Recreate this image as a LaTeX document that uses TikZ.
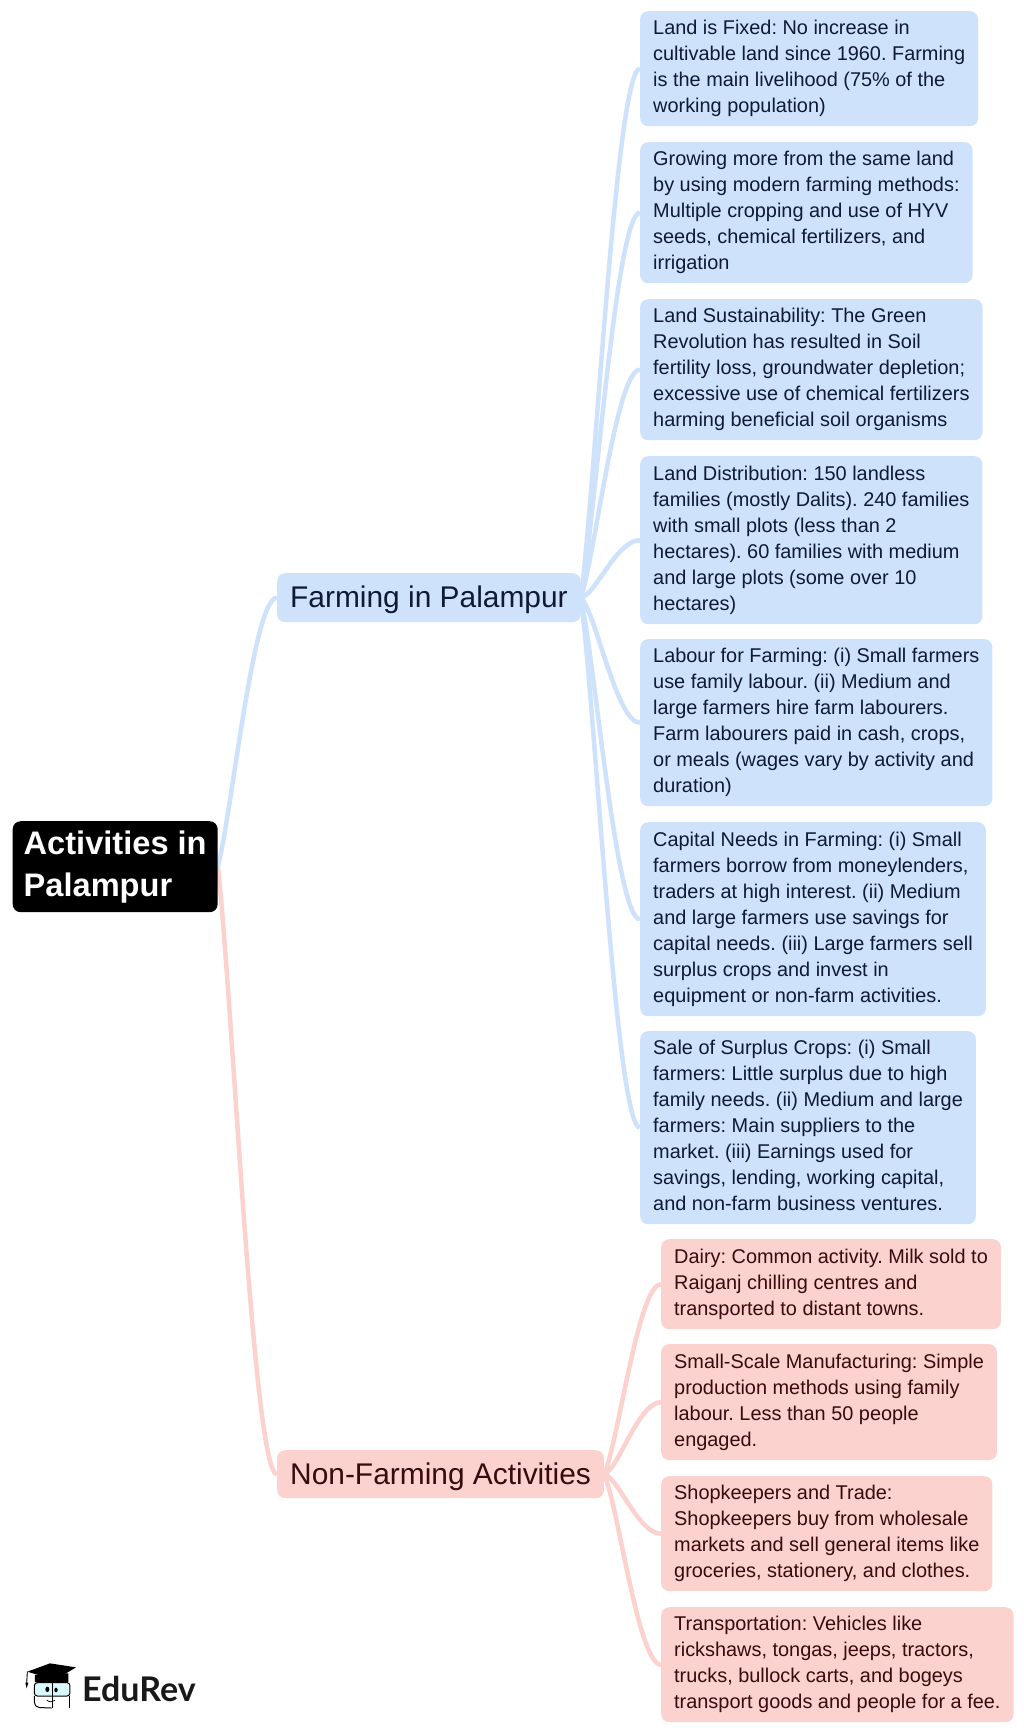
\documentclass[tikz,border=0pt]{standalone}
\usepackage{fontspec}
\setmainfont{Liberation Sans}
\newfontfamily\logofont{Lato}
\usetikzlibrary{calc,backgrounds}
\definecolor{bluefill}{HTML}{CFE2FB}
\definecolor{bluetext}{HTML}{0E1A36}
\definecolor{redfill}{HTML}{FBD2CE}
\definecolor{redtext}{HTML}{3A0A0E}
\frenchspacing
\tikzset{
  x=1pt,y=-1pt,
  basebox/.style={rounded corners=8pt,inner xsep=13pt,inner ysep=0pt,align=left,anchor=north west},
  leaf/.style={basebox,font=\fontsize{19.9}{26}\selectfont,execute at begin node={\rule{0pt}{29pt}},execute at end node={\rule[-4.5pt]{0pt}{5pt}}},
  blueleaf/.style={leaf,fill=bluefill,text=bluetext},
  redleaf/.style={leaf,fill=redfill,text=redtext},
  topic/.style={basebox,font=\fontsize{29.9}{36}\selectfont,execute at begin node={\rule{0pt}{26.4pt}}},
  rootbox/.style={basebox,fill=black,text=white,inner xsep=11pt,font=\bfseries\fontsize{32.6}{42}\selectfont,execute at begin node={\rule{0pt}{42.5pt}}},
  flow/.style={to path={let \p1=(\tikztostart),\p2=(\tikztotarget),\n1={\x2-\x1},\n2={\y2-\y1} in
     .. controls ($(\p1)+({.25*\n1},{.22*min(1,abs(\n2)/250)*\n2})$) and ($(\p2)+({-.4*\n1},0pt)$) .. (\tikztotarget)}},
  bluelink/.style={draw=bluefill,line width=4.5pt,flow},
  redlink/.style={draw=redfill,line width=4.5pt,flow},
}
\begin{document}
\begin{tikzpicture}
\useasboundingbox (0,0) rectangle (1024,1733);
\node[rootbox,minimum height=91pt] (root) at (12.5,821) {Activities in\\Palampur};
\node[topic,fill=bluefill,text=bluetext,minimum height=49pt] (farm) at (277,573) {Farming in Palampur};
\node[topic,fill=redfill,text=redtext,minimum height=48pt] (non) at (277,1450) {Non-Farming Activities};
\node[blueleaf,minimum height=115pt] (b1) at (640,11) {Land is Fixed: No increase in\\cultivable land since 1960. Farming\\is the main livelihood (75\% of the\\working population)};
\node[blueleaf,minimum height=141pt] (b2) at (640,142) {Growing more from the same land\\by using modern farming methods:\\Multiple cropping and use of HYV\\seeds, chemical fertilizers, and\\irrigation};
\node[blueleaf,minimum height=141pt] (b3) at (640,299) {Land Sustainability: The Green\\Revolution has resulted in Soil\\fertility loss, groundwater depletion;\\excessive use of chemical fertilizers\\harming beneficial soil organisms};
\node[blueleaf,minimum height=168pt] (b4) at (640,456) {Land Distribution: 150 landless\\families (mostly Dalits). 240 families\\with small plots (less than 2\\hectares). 60 families with medium\\and large plots (some over 10\\hectares)};
\node[blueleaf,minimum height=167pt] (b5) at (640,639) {Labour for Farming: (i) Small farmers\\use family labour. (ii) Medium and\\large farmers hire farm labourers.\\Farm labourers paid in cash, crops,\\or meals (wages vary by activity and\\duration)};
\node[blueleaf,minimum height=194pt] (b6) at (640,822) {Capital Needs in Farming: (i) Small\\farmers borrow from moneylenders,\\traders at high interest. (ii) Medium\\and large farmers use savings for\\capital needs. (iii) Large farmers sell\\surplus crops and invest in\\equipment or non-farm activities.};
\node[blueleaf,minimum height=193pt] (b7) at (640,1031) {Sale of Surplus Crops: (i) Small\\farmers: Little surplus due to high\\family needs. (ii) Medium and large\\farmers: Main suppliers to the\\market. (iii) Earnings used for\\savings, lending, working capital,\\and non-farm business ventures.};
\node[redleaf,minimum height=90pt] (r1) at (661,1239) {Dairy: Common activity. Milk sold to\\Raiganj chilling centres and\\transported to distant towns.};
\node[redleaf,minimum height=116pt] (r2) at (661,1344) {Small-Scale Manufacturing: Simple\\production methods using family\\labour. Less than 50 people\\engaged.};
\node[redleaf,minimum height=115pt] (r3) at (661,1476) {Shopkeepers and Trade:\\Shopkeepers buy from wholesale\\markets and sell general items like\\groceries, stationery, and clothes.};
\node[redleaf,minimum height=115pt] (r4) at (661,1607) {Transportation: Vehicles like\\rickshaws, tongas, jeeps, tractors,\\trucks, bullock carts, and bogeys\\transport goods and people for a fee.};
\begin{scope}[on background layer]
\fill[white] (0,0) rectangle (1024,1733);
\path[bluelink] (root.east) to (farm.west);
\path[redlink] (root.east) to (non.west);
\foreach \nm in {b1,b2,b3,b4,b5,b6,b7}{\path[bluelink] (farm.east) to (\nm.west);}
\foreach \nm in {r1,r2,r3,r4}{\path[redlink] (non.east) to (\nm.west);}
\end{scope}
% logo
\node[anchor=base west,inner sep=0pt,text=black!90,font=\logofont\bfseries\fontsize{34}{36}\selectfont] (brand) at (82,1701) {EduRev};
\begin{scope}[shift={(0,1620)},scale=1/3]
\fill[black] (82,155) -- (150,130) -- (228,142) -- (165,180) -- cycle;
\fill[black] (105,165) -- (105,186) -- (205,186) -- (205,160) -- cycle;
\draw[line width=0.9pt] (82,155) -- (80,190);
\fill[black] (76,188) -- (85,188) -- (80,205) -- cycle;
\draw[line width=1pt,fill=blue!12!cyan!15!white,rounded corners=3pt] (103,188) rectangle (210,228);
\draw[line width=1pt] (157,186) -- (157,265);
\draw[line width=1pt,rounded corners=5pt] (103,228) -- (103,262) -- (155,264);
\draw[line width=1pt,rounded corners=4pt] (210,228) -- (210,264);
\fill[black] (142,208) ellipse (6 and 8);
\fill[black] (168,210) ellipse (5 and 7);
\draw[line width=0.7pt] (140,240) .. controls (147,247) and (158,247) .. (165,241);
\end{scope}
\end{tikzpicture}
\end{document}
